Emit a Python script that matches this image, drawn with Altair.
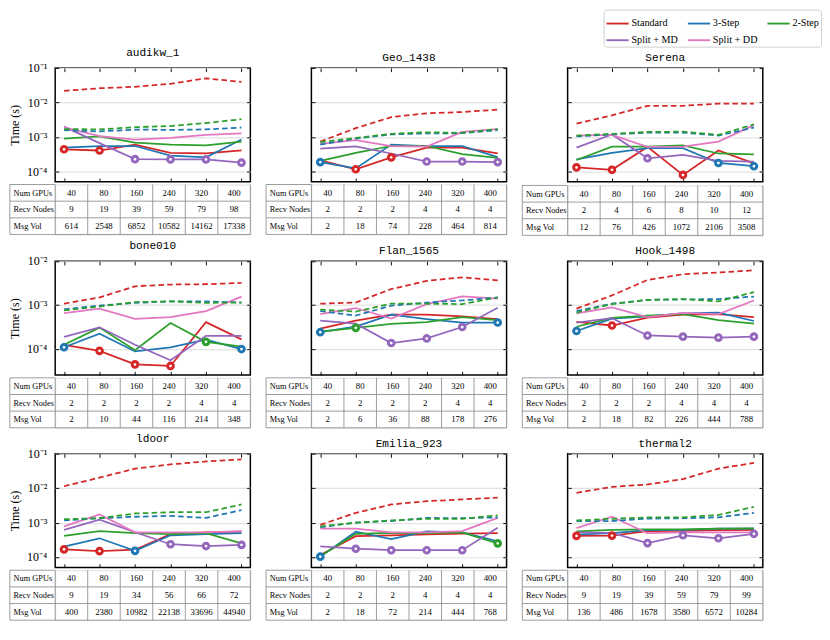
import altair as alt
import pandas as pd

GPUS = [40, 80, 160, 240, 320, 400]
METHODS = ["Standard", "3-Step", "2-Step", "Split + MD", "Split + DD"]
COLORS = ["#d62728", "#1f77b4", "#2ca02c", "#9467bd", "#e377c2"]
DASHED_METHODS = ["Standard", "3-Step", "2-Step"]
ROW_LABELS = ["Num GPUs", "Recv Nodes", "Msg Vol"]

# ---------------- audikw_1 ----------------
audikw_1_solid = {
    "Standard":   [0.000437, 0.000403, 0.0006, 0.000344, 0.00033, 0.000403],
    "3-Step":     [0.00049, 0.000544, 0.000544, 0.000288, 0.000255, 0.00084],
    "2-Step":     [0.000895, 0.00103, 0.00068, 0.0006, 0.000566, 0.00073],
    "Split + MD": [0.00198, 0.00066, 0.000226, 0.000222, 0.000222, 0.000179],
    "Split + DD": [0.0019, 0.00105, 0.00084, 0.00093, 0.00114, 0.00126],
}
audikw_1_dashed = {
    "Standard": [0.0216, 0.0258, 0.0285, 0.0348, 0.0499, 0.0393],
    "3-Step":   [0.00156, 0.00144, 0.00163, 0.0016, 0.00165, 0.00187],
    "2-Step":   [0.00169, 0.00165, 0.00191, 0.00207, 0.00252, 0.00326],
}
audikw_1_recv = [9, 19, 39, 59, 79, 98]
audikw_1_msg = [614, 2548, 6852, 10582, 14162, 17338]

# ---------------- Geo_1438 ----------------
geo_1438_solid = {
    "Standard":   [0.00021, 0.000115, 0.000255, 0.00049, 0.00049, 0.00033],
    "3-Step":     [0.000185, 0.000122, 0.0006, 0.000544, 0.000544, 0.00026],
    "2-Step":     [0.000201, 0.000344, 0.000544, 0.000544, 0.000318, 0.000245],
    "Split + MD": [0.000455, 0.000533, 0.00033, 0.000193, 0.000193, 0.000186],
    "Split + DD": [0.000625, 0.00081, 0.000544, 0.000523, 0.00139, 0.00169],
}
geo_1438_dashed = {
    "Standard": [0.000733, 0.00179, 0.00375, 0.00485, 0.00526, 0.00617],
    "3-Step":   [0.0006, 0.000895, 0.00118, 0.00126, 0.00128, 0.00156],
    "2-Step":   [0.000705, 0.00093, 0.00123, 0.00136, 0.00131, 0.00169],
}
geo_1438_recv = [2, 2, 2, 4, 4, 4]
geo_1438_msg = [2, 18, 74, 228, 464, 814]

# ---------------- Serena ----------------
serena_solid = {
    "Standard":   [0.00013, 0.000111, 0.000512, 0.0000788, 0.000403, 0.00017],
    "3-Step":     [0.000222, 0.000344, 0.000473, 0.000473, 0.000175, 0.000141],
    "2-Step":     [0.000213, 0.000523, 0.000523, 0.000566, 0.00033, 0.000312],
    "Split + MD": [0.00049, 0.00118, 0.00024, 0.000299, 0.000201, 0.000193],
    "Split + DD": [0.00109, 0.00114, 0.000512, 0.000523, 0.000733, 0.00219],
}
serena_dashed = {
    "Standard": [0.00242, 0.00423, 0.00798, 0.00798, 0.00918, 0.00918],
    "3-Step":   [0.00104, 0.00118, 0.00133, 0.00133, 0.00109, 0.00187],
    "2-Step":   [0.00109, 0.00123, 0.00139, 0.00142, 0.00114, 0.00232],
}
serena_recv = [2, 4, 6, 8, 10, 12]
serena_msg = [12, 76, 426, 1072, 2106, 3508]

# ---------------- bone010 ----------------
bone010_solid = {
    "Standard":   [0.000123, 0.0000895, 0.0000438, 0.0000404, 0.000405, 0.000164],
    "3-Step":     [0.000108, 0.000221, 0.0000867, 0.000108, 0.000161, 0.0000984],
    "2-Step":     [0.000123, 0.000304, 0.0000924, 0.000386, 0.000144, 0.000112],
    "Split + MD": [0.000186, 0.000309, 0.000123, 0.0000547, 0.000198, 0.000198],
    "Split + DD": [0.000652, 0.000827, 0.000482, 0.00053, 0.000728, 0.00156],
}
bone010_dashed = {
    "Standard": [0.00107, 0.00149, 0.00268, 0.00294, 0.00299, 0.00319],
    "3-Step":   [0.0008, 0.00097, 0.00112, 0.00121, 0.00121, 0.00114],
    "2-Step":   [0.000752, 0.000924, 0.00117, 0.00121, 0.00112, 0.00114],
}
bone010_recv = [2, 2, 2, 2, 4, 4]
bone010_msg = [2, 10, 44, 116, 214, 348]

# ---------------- Flan_1565 ----------------
flan_1565_solid = {
    "Standard":   [0.00029, 0.000438, 0.000601, 0.000601, 0.000547, 0.000474],
    "3-Step":     [0.000239, 0.00032, 0.000601, 0.000474, 0.000398, 0.000398],
    "2-Step":     [0.000247, 0.0003, 0.000368, 0.000405, 0.00053, 0.000452],
    "Split + MD": [0.000438, 0.000374, 0.000135, 0.000172, 0.000314, 0.000867],
    "Split + DD": [0.000621, 0.000853, 0.00049, 0.00105, 0.00158, 0.0014],
}
flan_1565_dashed = {
    "Standard": [0.00107, 0.00114, 0.00232, 0.00356, 0.00431, 0.00368],
    "3-Step":   [0.000728, 0.000574, 0.00097, 0.00114, 0.00127, 0.00149],
    "2-Step":   [0.000788, 0.000705, 0.00108, 0.00107, 0.00105, 0.00149],
}
flan_1565_recv = [2, 2, 2, 2, 4, 4]
flan_1565_msg = [2, 6, 36, 88, 178, 276]

# ---------------- Hook_1498 ----------------
hook_1498_solid = {
    "Standard":   [0.000411, 0.00034, 0.000513, 0.000601, 0.000621, 0.00053],
    "3-Step":     [0.000255, 0.00049, 0.000547, 0.000641, 0.000673, 0.000431],
    "2-Step":     [0.000318, 0.000505, 0.000574, 0.000621, 0.000452, 0.000374],
    "Split + MD": [0.000398, 0.000498, 0.000201, 0.000189, 0.00018, 0.000189],
    "Split + DD": [0.000641, 0.000881, 0.00053, 0.000662, 0.000621, 0.00127],
}
hook_1498_dashed = {
    "Standard": [0.000827, 0.00166, 0.00374, 0.00505, 0.00556, 0.00621],
    "3-Step":   [0.000728, 0.00107, 0.00131, 0.00134, 0.00137, 0.00156],
    "2-Step":   [0.000673, 0.00105, 0.00131, 0.00137, 0.00121, 0.00198],
}
hook_1498_recv = [2, 2, 2, 4, 4, 4]
hook_1498_msg = [2, 18, 82, 226, 444, 788]

# ---------------- ldoor ----------------
ldoor_solid = {
    "Standard":   [0.000168, 0.000149, 0.000164, 0.000465, 0.000524, 0.000544],
    "3-Step":     [0.000201, 0.000351, 0.000152, 0.000429, 0.000465, 0.000493],
    "2-Step":     [0.000412, 0.000567, 0.000493, 0.000465, 0.000493, 0.00025],
    "Split + MD": [0.000614, 0.00121, 0.000524, 0.000236, 0.000209, 0.000226],
    "Split + DD": [0.00078, 0.00173, 0.000524, 0.000524, 0.000524, 0.000567],
}
ldoor_dashed = {
    "Standard": [0.01135, 0.0202, 0.0368, 0.0488, 0.0596, 0.0684],
    "3-Step":   [0.00116, 0.00134, 0.00148, 0.00157, 0.00137, 0.0023],
    "2-Step":   [0.00126, 0.00134, 0.00184, 0.002, 0.002, 0.00336],
}
ldoor_recv = [9, 19, 34, 56, 66, 72]
ldoor_msg = [400, 2380, 10982, 22138, 33696, 44940]

# ---------------- Emilia_923 ----------------
emilia_923_solid = {
    "Standard":   [0.000115, 0.000404, 0.000429, 0.000455, 0.000483, 0.000493],
    "3-Step":     [0.000103, 0.000544, 0.00033, 0.000555, 0.000524, 0.000288],
    "2-Step":     [0.000106, 0.000474, 0.000504, 0.000493, 0.000524, 0.00025],
    "Split + MD": [0.000205, 0.000175, 0.000158, 0.000158, 0.000158, 0.000706],
    "Split + DD": [0.000665, 0.000665, 0.000524, 0.000524, 0.000567, 0.00137],
}
emilia_923_dashed = {
    "Standard": [0.000863, 0.00192, 0.00336, 0.00418, 0.00471, 0.00531],
    "3-Step":   [0.000735, 0.001, 0.00111, 0.00137, 0.00134, 0.00142],
    "2-Step":   [0.00078, 0.001, 0.00116, 0.00129, 0.00129, 0.00163],
}
emilia_923_recv = [2, 2, 2, 4, 4, 4]
emilia_923_msg = [2, 18, 72, 214, 444, 768]

# ---------------- thermal2 ----------------
thermal2_solid = {
    "Standard":   [0.000412, 0.00042, 0.000567, 0.000578, 0.000603, 0.000614],
    "3-Step":     [0.000447, 0.000493, 0.000603, 0.000614, 0.000665, 0.000665],
    "2-Step":     [0.000556, 0.000614, 0.00064, 0.00064, 0.000665, 0.00068],
    "Split + MD": [0.000524, 0.000504, 0.000255, 0.000429, 0.000351, 0.000474],
    "Split + DD": [0.000692, 0.00148, 0.000493, 0.000524, 0.000524, 0.000524],
}
thermal2_dashed = {
    "Standard": [0.00731, 0.0109, 0.0128, 0.0183, 0.0368, 0.0538],
    "3-Step":   [0.00111, 0.00111, 0.00131, 0.00134, 0.00142, 0.00192],
    "2-Step":   [0.00116, 0.00129, 0.00142, 0.00142, 0.00167, 0.00286],
}
thermal2_recv = [9, 19, 39, 59, 79, 99]
thermal2_msg = [136, 486, 1678, 3580, 6572, 10284]

PANELS = [
    ("audikw_1", audikw_1_solid, audikw_1_dashed, audikw_1_recv, audikw_1_msg),
    ("Geo_1438", geo_1438_solid, geo_1438_dashed, geo_1438_recv, geo_1438_msg),
    ("Serena", serena_solid, serena_dashed, serena_recv, serena_msg),
    ("bone010", bone010_solid, bone010_dashed, bone010_recv, bone010_msg),
    ("Flan_1565", flan_1565_solid, flan_1565_dashed, flan_1565_recv, flan_1565_msg),
    ("Hook_1498", hook_1498_solid, hook_1498_dashed, hook_1498_recv, hook_1498_msg),
    ("ldoor", ldoor_solid, ldoor_dashed, ldoor_recv, ldoor_msg),
    ("Emilia_923", emilia_923_solid, emilia_923_dashed, emilia_923_recv, emilia_923_msg),
    ("thermal2", thermal2_solid, thermal2_dashed, thermal2_recv, thermal2_msg),
]
ROW_YDOMAIN = [[5e-5, 0.1], [2.5e-5, 0.01], [5e-5, 0.1]]
ROW_YTICKS = [[1e-4, 1e-3, 1e-2, 1e-1], [1e-4, 1e-3, 1e-2], [1e-4, 1e-3, 1e-2, 1e-1]]

W, H = 211, 123
TABLE_H = 54
LABEL_COL = 49  # px width of the row-label column
SERIF = "Liberation Serif"
MONO = "Liberation Mono"

LABEL_EXPR = ("datum.value > 0.05 ? '10\u207b\u00b9' : datum.value > 0.005 ? '10\u207b\u00b2' : "
              "datum.value > 0.0005 ? '10\u207b\u00b3' : '10\u207b\u2074'")

color_scale = alt.Scale(domain=METHODS, range=COLORS)
LEGEND = alt.Legend(
    orient="none", legendX=593, legendY=-63, columns=3, direction="horizontal",
    symbolType="stroke", symbolStrokeWidth=2, symbolSize=576,
    labelFont=SERIF, labelFontSize=11, labelColor="black", labelOffset=2,
    columnPadding=6, rowPadding=0, padding=2, strokeColor="#cccccc",
    fillColor="white", cornerRadius=3, title=None,
)


def tick_axis(orient, values, labels=False, title=None, grid=False):
    kw = dict(orient=orient, values=values, labels=labels, domain=False,
              ticks=True, tickSize=4, offset=-4, tickColor="black", tickWidth=1,
              grid=grid, title=title)
    if grid:
        kw.update(gridColor="#e3e3e3", gridWidth=1.3)
    if labels:
        kw.update(labelExpr=LABEL_EXPR, labelFont=SERIF, labelFontSize=13,
                  labelPadding=9, labelColor="black")
    if title:
        kw.update(titleFont=SERIF, titleFontSize=13, titleFontWeight="normal",
                  titlePadding=6, titleColor="black")
    return alt.Axis(**kw)


def line_panel(name, solid, dashed, row, col):
    solid_df = pd.DataFrame(
        [{"idx": i, "method": m, "time": v} for m in METHODS for i, v in enumerate(solid[m])]
    )
    dashed_df = pd.DataFrame(
        [{"idx": i, "method": m, "time": v} for m in DASHED_METHODS for i, v in enumerate(dashed[m])]
    )
    xs = alt.Scale(domain=[-0.25, 5.25], nice=False, zero=False)
    ys = alt.Scale(type="log", domain=ROW_YDOMAIN[row], nice=False)
    yt = ROW_YTICKS[row]
    first = col == 0

    solid_layer = alt.Chart(solid_df).mark_line(strokeWidth=1.9).encode(
        x=alt.X("idx:Q", scale=xs, axis=tick_axis("bottom", list(range(6)))),
        y=alt.Y("time:Q", scale=ys,
                axis=tick_axis("left", yt, labels=first,
                               title="Time (s)" if first else None, grid=True)),
        color=alt.Color("method:N", scale=color_scale, legend=LEGEND),
        order=alt.Order("idx:Q"),
    )
    dashed_layer = alt.Chart(dashed_df).mark_line(strokeWidth=1.9, strokeDash=[6, 3.5]).encode(
        x=alt.X("idx:Q", scale=xs, axis=tick_axis("top", list(range(6)))),
        y=alt.Y("time:Q", scale=ys, axis=tick_axis("right", yt)),
        color=alt.Color("method:N", scale=color_scale, legend=None),
        order=alt.Order("idx:Q"),
    )
    best_layer = alt.Chart(solid_df).transform_joinaggregate(
        best="min(time)", groupby=["idx"]
    ).transform_filter("datum.time == datum.best").mark_point(
        shape="circle", filled=False, fill="white", fillOpacity=1, opacity=1,
        size=38, strokeWidth=3.2,
    ).encode(
        x=alt.X("idx:Q", scale=xs, axis=None),
        y=alt.Y("time:Q", scale=ys, axis=None),
        color=alt.Color("method:N", scale=color_scale, legend=None),
    )
    return alt.layer(solid_layer, dashed_layer, best_layer).resolve_axis(
        x="independent", y="independent"
    ).properties(
        width=W, height=H,
        title=alt.TitleParams(text=name, font=MONO, fontSize=12, fontWeight="normal",
                              color="black", offset=4),
        view=alt.ViewBackground(stroke="black", strokeWidth=1.6),
    )


def table_panel(recv, msg):
    unit = W / 6.0
    left = -LABEL_COL / unit
    rows = [GPUS, recv, msg]
    cells = pd.DataFrame(
        [{"c": c + 0.5, "r": r + 0.5, "txt": str(v)} for r, vals in enumerate(rows) for c, v in enumerate(vals)]
    )
    labels = pd.DataFrame(
        [{"c": left + 4.0 / unit, "r": r + 0.5, "txt": t} for r, t in enumerate(ROW_LABELS)]
    )
    hlines = pd.DataFrame(
        [{"x": left, "x2": 6.0, "y": float(r)} for r in [1, 2, 3]] + [{"x": left, "x2": 0.0, "y": 0.0}]
    )
    vlines = pd.DataFrame(
        [{"x": float(c), "y": 0.0, "y2": 3.0} for c in [left, 0, 1, 2, 3, 4, 5, 6]]
    )
    xs = alt.Scale(domain=[0, 6], nice=False, zero=False)
    ys = alt.Scale(domain=[3, 0], nice=False, zero=False)
    h = alt.Chart(hlines).mark_rule(color="#8a8a8a", strokeWidth=0.9).encode(
        x=alt.X("x:Q", scale=xs, axis=None), x2="x2:Q",
        y=alt.Y("y:Q", scale=ys, axis=None),
    )
    v = alt.Chart(vlines).mark_rule(color="#8a8a8a", strokeWidth=0.9).encode(
        x=alt.X("x:Q", scale=xs, axis=None),
        y=alt.Y("y:Q", scale=ys, axis=None), y2="y2:Q",
    )
    t = alt.Chart(cells).mark_text(font=SERIF, fontSize=9.5, align="center",
                                   baseline="middle", color="black").encode(
        x=alt.X("c:Q", scale=xs, axis=None),
        y=alt.Y("r:Q", scale=ys, axis=None),
        text="txt:N",
    )
    lab = alt.Chart(labels).mark_text(font=SERIF, fontSize=9, align="left",
                                      baseline="middle", color="black").encode(
        x=alt.X("c:Q", scale=xs, axis=None),
        y=alt.Y("r:Q", scale=ys, axis=None),
        text="txt:N",
    )
    return alt.layer(h, v, t, lab).properties(width=W, height=TABLE_H)


rows_charts = []
for row in range(3):
    panels = []
    for col in range(3):
        name, solid, dashed, recv, msg = PANELS[row * 3 + col]
        panels.append(alt.vconcat(line_panel(name, solid, dashed, row, col),
                                  table_panel(recv, msg), spacing=0))
    rows_charts.append(alt.hconcat(*panels, spacing=14))

chart = alt.vconcat(*rows_charts, spacing=3).properties(
    padding={"top": -25, "left": 0, "right": 0, "bottom": 0}
).configure_view(strokeWidth=0).configure(background="white")

chart.save("out.html", embed_options={"renderer": "svg", "actions": False})
